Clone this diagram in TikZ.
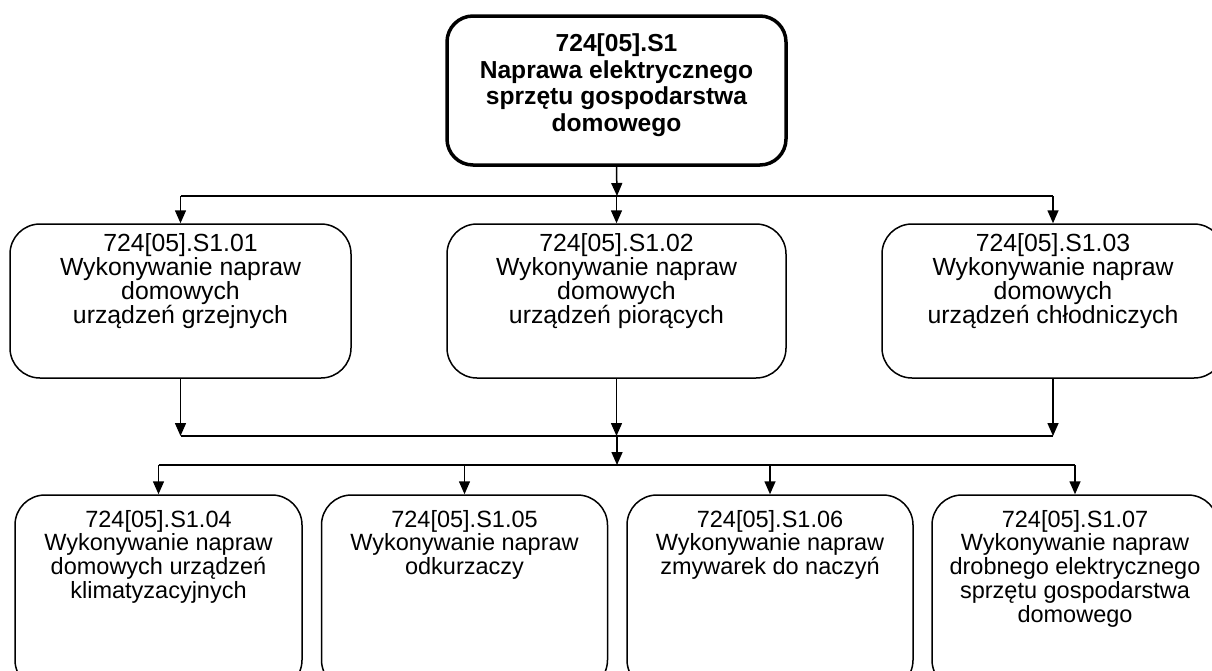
\documentclass[tikz,border=0pt]{standalone}
\usepackage{fontspec}
\setmainfont{Liberation Sans}
\usetikzlibrary{arrows.meta}

% box outlines, connectors and bus lines
\tikzset{
  unit/.style={draw, rounded corners=30pt, inner sep=0pt, line width=1.5pt,
    font=\fontsize{24.8}{23.8}\selectfont},
  lowunit/.style={unit, font=\fontsize{23.5}{23.8}\selectfont},
  mainunit/.style={unit, line width=3.5pt, rounded corners=26pt,
    font=\fontsize{24.6}{26.5}\selectfont\bfseries},
  feed/.style={line width=1.5pt, -{Triangle[length=13pt,width=11pt]}},
  bus/.style={line width=1.5pt},
  heavybus/.style={line width=2.8pt},
}
% fixed-size box body: height, width, top gap, centred lines
\newcommand\unittext[4]{\parbox[c][#1][t]{#2}{\centering\vspace*{#3}#4}}

\begin{document}
\begin{tikzpicture}[x=1pt, y=-1pt]
\useasboundingbox (0,0) rectangle (1212,670);
\clip (0,0) rectangle (1212,670);

% qualification
\node[mainunit] (top) at (616.5,90.5)
  {\unittext{149pt}{339pt}{18pt}{724[05].S1\\Naprawa elektrycznego\\sprzętu gospodarstwa\\domowego}};

% first-level units
\node[unit] (m1) at (180.5,301)
  {\unittext{154pt}{341pt}{10pt}{724[05].S1.01\\Wykonywanie napraw\\domowych\\urządzeń grzejnych}};
\node[unit] (m2) at (616.5,301)
  {\unittext{154pt}{339pt}{10pt}{724[05].S1.02\\Wykonywanie napraw\\domowych\\urządzeń piorących}};
\node[unit] (m3) at (1053,301)
  {\unittext{154pt}{342pt}{10pt}{724[05].S1.03\\Wykonywanie napraw\\domowych\\urządzeń chłodniczych}};

% second-level units
\node[lowunit] (b1) at (158.5,592.5)
  {\unittext{195pt}{287pt}{15pt}{724[05].S1.04\\Wykonywanie napraw\\domowych urządzeń\\klimatyzacyjnych}};
\node[lowunit] (b2) at (464.5,592.5)
  {\unittext{195pt}{286pt}{15pt}{724[05].S1.05\\Wykonywanie napraw\\odkurzaczy}};
\node[lowunit] (b3) at (770,592.5)
  {\unittext{195pt}{286pt}{15pt}{724[05].S1.06\\Wykonywanie napraw\\zmywarek do naczyń}};
\node[lowunit] (b4) at (1075,592.5)
  {\unittext{195pt}{286pt}{15pt}{724[05].S1.07\\Wykonywanie napraw\\drobnego elektrycznego\\sprzętu gospodarstwa\\domowego}};

% bus junctions
\coordinate (busA) at (617,196);
\coordinate (busB) at (617,436);
\coordinate (busC) at (617,465);

% qualification to first level
\draw[feed] (top.south) -- (busA);
\draw[bus] (busA -| m1) -- (busA -| m3);
\foreach \n in {m1,m2,m3}
  \draw[feed] (busA -| \n) -- (\n.north);

% first level to collecting bus
\foreach \n in {m1,m2,m3}
  \draw[feed] (\n.south) -- (busB -| \n);
\draw[heavybus] (busB -| m1) -- (busB -| m3);
\draw[feed] (busB) -- (busC);

% distribution to second level
\draw[heavybus] (busC -| b1) -- (busC -| b4);
\foreach \n in {b1,b2,b3,b4}
  \draw[feed] (busC -| \n) -- (\n.north);
\end{tikzpicture}
\end{document}
